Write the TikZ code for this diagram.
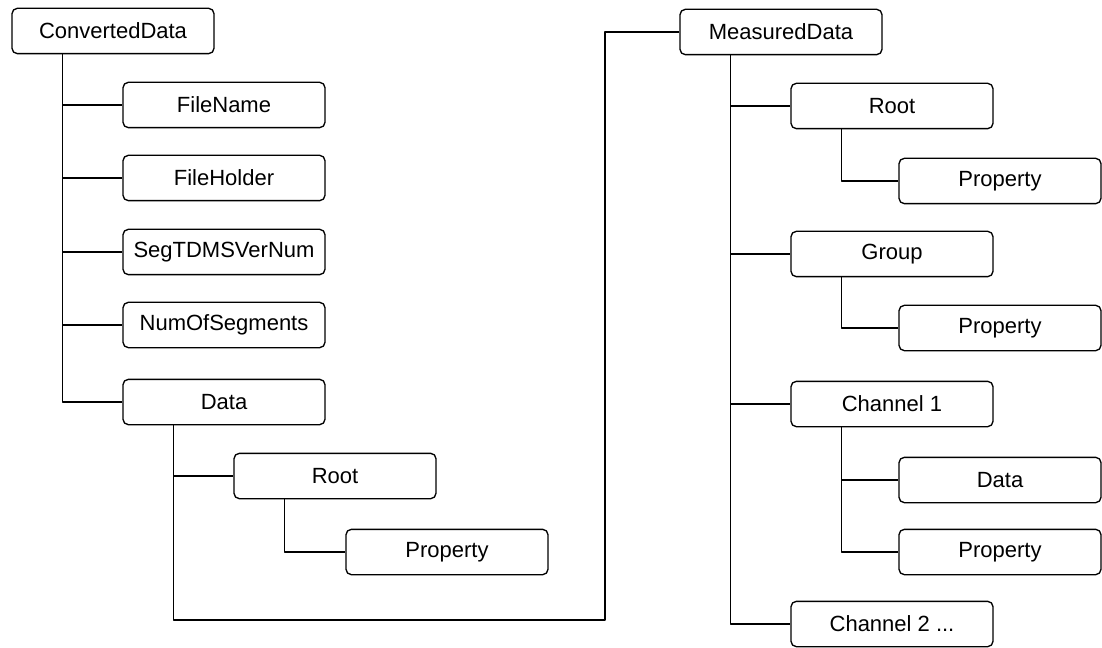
\documentclass[tikz,border=0pt]{standalone}
\usepackage{fontspec}
\setmainfont{Liberation Sans}
\tikzset{
  trbox/.style={draw, rounded corners=4pt, line width=1pt, fill=white,
    minimum width=151.5pt, minimum height=34pt, inner sep=0pt},
  trline/.style={line width=1pt},
}
\begin{document}
\begin{tikzpicture}[x=0.75pt, y=-0.75pt, font=\fontsize{16.5}{19}\selectfont, line join=round]
			\useasboundingbox (0,0) rectangle (1102,648);
			% left tree
			\node[trbox] (cd) at (113,31) {ConvertedData};
			\node[trbox] (fname) at (224,105) {FileName};
			\node[trbox] (fholder) at (224,178) {FileHolder};
			\node[trbox] (segver) at (224,252) {SegTDMSVerNum};
			\node[trbox] (nseg) at (224,325) {NumOfSegments};
			\node[trbox] (data) at (224,402) {Data};
			\node[trbox] (droot) at (335,476) {Root};
			\node[trbox] (dprop) at (447,552) {Property};
			% right tree
			\node[trbox] (md) at (781,32) {MeasuredData};
			\node[trbox] (mroot) at (892,106) {Root};
			\node[trbox] (mrprop) at (1000,181) {Property};
			\node[trbox] (mgroup) at (892,254) {Group};
			\node[trbox] (mgprop) at (1000,328) {Property};
			\node[trbox] (mch1) at (892,404) {Channel 1};
			\node[trbox] (mcdata) at (1000,480) {Data};
			\node[trbox] (mcprop) at (1000,552) {Property};
			\node[trbox] (mch2) at (892,624) {Channel 2 ...};
			% connectors
			\foreach \c in {fname,fholder,segver,nseg,data}{\draw[trline] ([xshift=38.25pt]cd.south west) |- (\c.west);}
			\draw[trline] ([xshift=38.25pt]data.south west) |- (droot.west);
			\draw[trline] ([xshift=38.25pt]droot.south west) |- (dprop.west);
			\foreach \c in {mroot,mgroup,mch1,mch2}{\draw[trline] ([xshift=38.25pt]md.south west) |- (\c.west);}
			\draw[trline] ([xshift=38.25pt]mroot.south west) |- (mrprop.west);
			\draw[trline] ([xshift=38.25pt]mgroup.south west) |- (mgprop.west);
			\foreach \c in {mcdata,mcprop}{\draw[trline] ([xshift=38.25pt]mch1.south west) |- (\c.west);}
			\coordinate (turn) at (605,620);
			\draw[trline] ([xshift=38.25pt]data.south west) |- (turn) |- (md.west);
\end{tikzpicture}
\end{document}
